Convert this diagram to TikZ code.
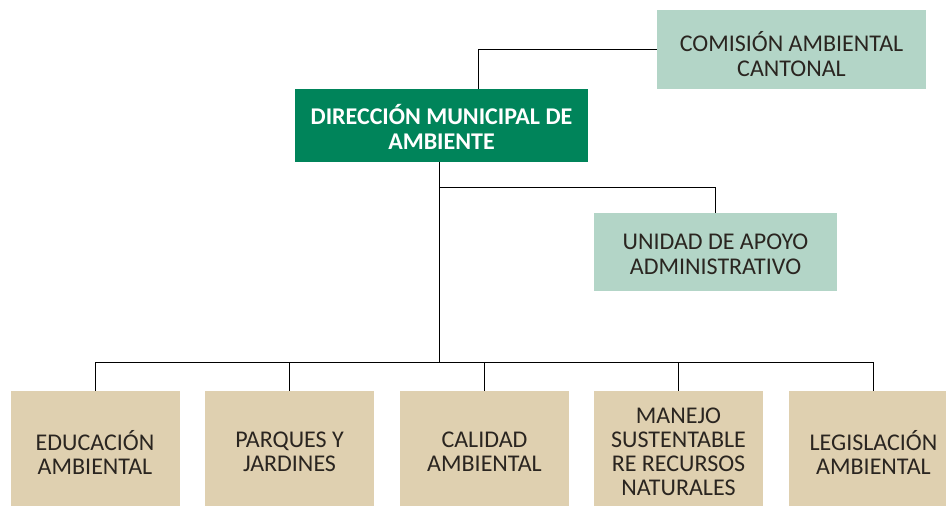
\documentclass[tikz,border=0pt]{standalone}
\usepackage{fontspec}
\setmainfont{Carlito}
\usetikzlibrary{calc}

\definecolor{palegreen}{HTML}{B3D5C7}
\definecolor{darkgreen}{HTML}{00845A}
\definecolor{tan}{HTML}{DFD0B0}
\definecolor{ink}{HTML}{2A2520}

\tikzset{
  unit/.style={fill=palegreen,text=ink,align=center,inner sep=0pt,
    font=\fontsize{24}{25}\selectfont},
  head/.style={fill=darkgreen,text=white,align=center,inner sep=0pt,
    font=\fontsize{24}{25}\selectfont\bfseries},
  area/.style={fill=tan,text=ink,align=center,inner sep=0pt,
    minimum width=169pt,minimum height=122pt,
    font=\fontsize{24}{24}\selectfont},
  link/.style={draw=black,line width=0.8pt}
}
\newcommand{\topstrut}[1]{\rule{0pt}{#1}}

\begin{document}
\begin{tikzpicture}[x=1pt,y=-1pt]

\useasboundingbox (0,0) rectangle (946,506);

\node[unit,minimum width=269pt,minimum height=79pt] (com) at (791.5,49.5) {\topstrut{30pt}COMISIÓN AMBIENTAL\\CANTONAL};
\node[head,minimum width=293pt,minimum height=73pt] (dir) at (441.5,125.5) {\topstrut{23pt}DIRECCIÓN MUNICIPAL DE\\AMBIENTE};
\node[unit,minimum width=243pt,minimum height=78pt] (uni) at (715.5,252) {\topstrut{21pt}UNIDAD DE APOYO\\ADMINISTRATIVO};

\node[area] (b1) at (95,452) {EDUCACIÓN\\AMBIENTAL};
\node[area] (b2) at (289.5,452) {PARQUES Y\\JARDINES};
\node[area] (b3) at (484.5,452) {CALIDAD\\AMBIENTAL};
\node[area] (b4) at (678.5,452) {MANEJO\\SUSTENTABLE\\RE RECURSOS\\NATURALES};
\node[area] (b5) at (873.5,452) {LEGISLACIÓN\\AMBIENTAL};

\coordinate (top) at ($(dir.north)+(36.5,0)$);
\coordinate (bus) at ($(dir.south)+(-2.5,200)$);

\draw[link] (com.west) -| (top);
\draw[link] ($(dir.south)+(-2.5,0)$) -- (bus);
\draw[link] ($(dir.south)+(-2.5,25)$) -| (uni.north);
\draw[link] (b1.north |- bus) -- (b5.north |- bus);
\foreach \b in {b1,b2,b3,b4,b5}
  \draw[link] (\b.north) -- (\b.north |- bus);

\end{tikzpicture}
\end{document}
